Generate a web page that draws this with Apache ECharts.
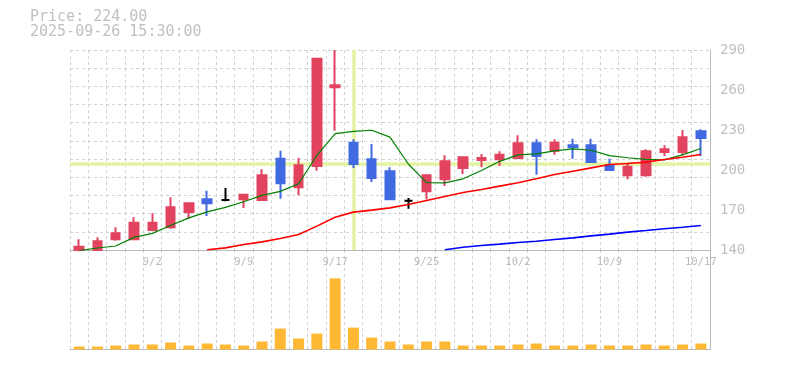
<!DOCTYPE html>
<html><head><meta charset="utf-8">
<script src="https://cdn.jsdelivr.net/npm/echarts@6/dist/echarts.min.js"></script>
<style>html,body{margin:0;padding:0;background:#fff}#c{width:785px;height:370px}</style>
</head><body><div id="c"></div><script>
const titleLines = ['Price: 224.00', '2025-09-26 15:30:00'];
const dates = ['8/27','8/28','8/29','9/1','9/2','9/3','9/4','9/5','9/8','9/9','9/10','9/11','9/12','9/16','9/17','9/18','9/19','9/22','9/24','9/25','9/26','9/29','9/30','10/1','10/2','10/3','10/6','10/7','10/8','10/9','10/10','10/14','10/15','10/16','10/17'];
const opens  = [140,140,148,148,155,157,168.5,178,177.5,178,177.5,208.5,187,203,262,220.5,208,199,177,184,193,201.5,207.5,208,209,220,214.5,218.5,218.5,203.5,196,196,213.5,213.5,229];
const closes = [142.5,146.5,152.5,160.5,160.5,172,175,175,177.5,181.5,196,190,203.5,283.5,263.5,204.5,194,178,177,196,206.5,209.5,209,211.5,220,210.5,220.5,217,206,200,202.5,214,215.5,224.5,224];
const lows   = [139,139.5,147,147.5,154,156,163.5,165.5,176.5,171.5,177.5,178.5,181,199.5,229.5,201.5,191,178,171,178,188,197,202,203,208.5,196.5,211.5,208.5,205.5,200,193,195,210.5,211,210.5];
const highs  = [148,149.5,157,164.5,167.5,179.5,175,184.5,186.5,181.5,200.5,214.5,209,283.5,290,223,219.5,202,179,196,211,209.5,212,214,226,223,223,223.5,223.5,208.5,205.5,215.5,218.5,230,230.5];
const volumes = [30,30,40,50,50,70,40,60,50,40,80,210,110,160,715,220,120,80,50,80,80,40,40,40,50,60,40,40,50,40,40,50,40,50,60];
const ma5  = [139.5,141.5,143,149.5,152.5,158.4,164.1,168.6,172,176.2,181,184,189.7,210.9,227.3,229,229.8,224.7,204.5,190.5,190.3,193.4,199.6,206.5,211.3,212.1,214.3,215.9,214.8,210.8,209.2,207.9,207.6,211.3,216.1];
const ma25 = [null,null,null,null,null,null,null,140.2,141.6,144.1,146.1,148.6,151.6,157.9,164.6,168.4,169.9,171.6,174.1,177.1,180.1,183.1,185.4,187.9,190.4,193.4,196.6,199.1,201.6,204.1,204.9,205.9,207.9,209.6,211.6];
const ma75 = [null,null,null,null,null,null,null,null,null,null,null,null,null,null,null,null,null,null,null,null,140.2,142.1,143.4,144.4,145.6,146.6,147.9,149.1,150.6,151.9,153.4,154.6,155.9,157.1,158.4];
const priceTicks = [140,170,200,230,260,290];
const crosshairDate = '9/18';
const crosshairPrice = 204.5;

const mono = 'DejaVu Sans Mono';
const dash = {color:'#d2d2d2', type:[3,3], width:1};
const axisGray = '#bbbbbb';
const candleData = dates.map((d,i)=>[opens[i], closes[i], lows[i], highs[i]]);

const chart = echarts.init(document.getElementById('c'), null, {renderer:'canvas'});
chart.setOption({
  animation:false,
  backgroundColor:'#fff',
  graphic:[{type:'text', left:30, top:10, style:{text:titleLines.join('\n'), fill:'#c0c0c0', font:'15px "DejaVu Sans Mono"', lineHeight:15}}],
  grid:[{left:70,right:75,top:50,height:200},{left:70,right:75,top:250,height:99.5}],
  xAxis:[
    {type:'category', data:dates, gridIndex:0, boundaryGap:true,
     axisLine:{show:true, lineStyle:{color:axisGray}}, axisTick:{show:false},
     axisLabel:{interval:(i)=>i%5===4, color:'#bbb', fontFamily:mono, fontSize:10.5, margin:7},
     splitLine:{show:true, interval:0, lineStyle:dash}},
    {type:'category', data:dates, gridIndex:1, boundaryGap:true,
     axisLine:{show:true, lineStyle:{color:axisGray}}, axisTick:{show:false},
     axisLabel:{show:false}, splitLine:{show:true, interval:0, lineStyle:dash}}
  ],
  yAxis:[
    {type:'value', gridIndex:0, position:'right', min:priceTicks[0], max:priceTicks[priceTicks.length-1], interval:priceTicks[1]-priceTicks[0],
     axisLine:{show:true, lineStyle:{color:axisGray}}, axisTick:{show:false},
     axisLabel:{color:'#c0c0c0', fontFamily:mono, fontSize:14, margin:10}, splitLine:{show:false}},
    {type:'value', gridIndex:0, position:'left', min:0, max:11, interval:1,
     axisLine:{show:false}, axisTick:{show:false}, axisLabel:{show:false},
     splitLine:{show:true, lineStyle:dash}},
    {type:'value', gridIndex:1, position:'right', min:0, max:1000,
     axisLine:{show:true, lineStyle:{color:axisGray}}, axisTick:{show:false},
     axisLabel:{show:false}, splitLine:{show:false}}
  ],
  series:[
    {name:'crosshair', type:'line', xAxisIndex:0, yAxisIndex:0, data:closes, symbol:'none', silent:true, z:1,
     lineStyle:{opacity:0},
     markLine:{silent:true, z:1, symbol:['none','none'], label:{show:false},
       lineStyle:{color:'#e2f4a2', width:3.5, type:'solid'},
       data:[{xAxis:crosshairDate},{yAxis:crosshairPrice}]}},
    {name:'price', type:'candlestick', xAxisIndex:0, yAxisIndex:0, data:candleData, barWidth:9, z:3,
     itemStyle:{color:'#e2435f', color0:'#4169e1', borderColor:'#e2435f', borderColor0:'#4169e1', borderColorDoji:'#000000', borderWidth:2}},
    {name:'MA5', type:'line', xAxisIndex:0, yAxisIndex:0, data:ma5, symbol:'none', z:4, lineStyle:{color:'#008000', width:1.2}},
    {name:'MA25', type:'line', xAxisIndex:0, yAxisIndex:0, data:ma25, symbol:'none', z:4, lineStyle:{color:'#ff0000', width:1.6}},
    {name:'MA75', type:'line', xAxisIndex:0, yAxisIndex:0, data:ma75, symbol:'none', z:4, lineStyle:{color:'#0000ff', width:1.6}},
    {name:'volume', type:'bar', xAxisIndex:1, yAxisIndex:2, data:volumes, barWidth:11, itemStyle:{color:'#ffb833'}}
  ]
});
</script></body></html>
